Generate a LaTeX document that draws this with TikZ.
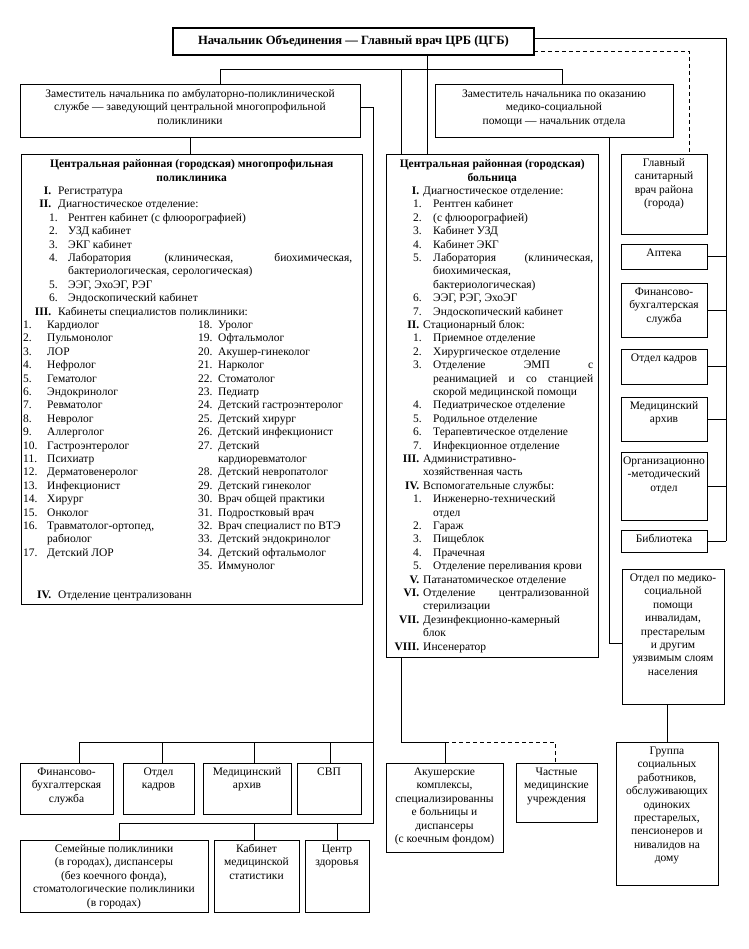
\documentclass[tikz,border=0pt]{standalone}
\usepackage{fontspec}
\setmainfont{Liberation Serif}
\newcommand\fsz{\fontsize{11.5pt}{13.4pt}\selectfont}
\newcommand\mkbox[5]{\node[box, minimum width=#4pt, minimum height=#5pt] (#1) at (#2,#3) {};}
% poly list lines
\newcommand\pR[2]{\makebox[30pt][r]{\textbf{#1}}\hspace{7pt}#2}
\newcommand\pN[2]{\makebox[28pt]{}\makebox[19pt][l]{#1}#2}
\newcommand\pC[1]{\makebox[47pt]{}#1}
\newcommand\pJ[2]{\makebox[28pt]{}\makebox[19pt][l]{#1}\makebox[284pt][s]{#2}}
\newcommand\pT[4]{\makebox[2pt]{}\makebox[24pt][l]{#1}\makebox[151pt][l]{#2}\makebox[20pt][l]{#3}#4}
% hospital list lines
\newcommand\hR[2]{\makebox[33pt][r]{\textbf{#1}}\hspace{4pt}#2}
\newcommand\hRJ[2]{\makebox[33pt][r]{\textbf{#1}}\hspace{4pt}\makebox[166pt][s]{#2}}
\newcommand\hRC[1]{\makebox[37pt]{}#1}
\newcommand\hN[2]{\makebox[27pt]{}\makebox[20pt][l]{#1}#2}
\newcommand\hJ[2]{\makebox[27pt]{}\makebox[20pt][l]{#1}\makebox[160pt][s]{#2}}
\newcommand\hC[1]{\makebox[47pt]{}#1}
\newcommand\hCJ[1]{\makebox[47pt]{}\makebox[160pt][s]{#1}}
\tikzset{
  box/.style={draw, line width=0.9pt, inner sep=0pt, outer sep=0pt, anchor=north west},
  lbl/.style={inner sep=0pt, align=center, font=\fsz},
  lst/.style={inner sep=0pt, align=left, font=\fsz, anchor=north west},
  conn/.style={line width=0.9pt},
  dconn/.style={line width=0.9pt, dash pattern=on 4pt off 3pt},
}
\begin{document}
\begin{tikzpicture}[x=1pt,y=-1pt]
\path[fill=white] (0,0) rectangle (748,949);
\useasboundingbox (0,0) rectangle (748,949);

% ---------- boxes ----------
\mkbox{top}{173}{28}{361}{27}
\mkbox{zl}{20}{84}{340}{53}
\mkbox{zr}{435}{84}{238}{53}
\mkbox{poly}{21}{154}{341}{450}
\mkbox{hosp}{386}{154}{212}{503}
\mkbox{gsv}{621}{154}{86}{80}
\mkbox{apt}{621}{244}{86}{25}
\mkbox{fin}{621}{283}{86}{54}
\mkbox{ok}{621}{349}{86}{35}
\mkbox{ma}{621}{397}{86}{44}
\mkbox{omo}{621}{452}{86}{68}
\mkbox{bib}{621}{530}{86}{22}
\mkbox{otd}{622}{569}{102}{135}
\mkbox{grp}{616}{742}{102}{143}
\mkbox{b1}{20}{763}{93}{51}
\mkbox{b2}{123}{763}{71}{51}
\mkbox{b3}{203}{763}{88}{51}
\mkbox{b4}{297}{763}{64}{51}
\mkbox{c1}{20}{840}{188}{72}
\mkbox{c2}{214}{840}{85}{72}
\mkbox{c3}{305}{840}{64}{72}
\mkbox{ak}{386}{763}{117}{89}
\mkbox{ch}{516}{763}{81}{59}
\draw[line width=1.6pt] (top.north west) rectangle (top.south east);

% ---------- texts ----------
\node[lbl, font=\bfseries\fontsize{12.6pt}{15pt}\selectfont] (top-t) at (top.center) {Начальник Объединения — Главный врач ЦРБ (ЦГБ)};
\node[lbl, anchor=north] (zl-t) at ([yshift=-4pt]zl.north) {\strut Заместитель начальника по амбулаторно-поликлинической\\службе — заведующий центральной многопрофильной\\поликлиники};
\node[lbl, anchor=north] (zr-t) at ([yshift=-4pt]zr.north) {\strut Заместитель начальника по оказанию\\медико-социальной\\помощи — начальник отдела};

\node[lbl, anchor=north] (gsv-t) at ([yshift=-2.9pt]gsv.north) {\strut Главный\\санитарный\\врач района\\(города)};
\node[lbl, anchor=north] (apt-t) at ([yshift=-2.9pt]apt.north) {\strut Аптека};
\node[lbl, anchor=north] (fin-t) at ([yshift=-2.9pt]fin.north) {\strut Финансово-\\бухгалтерская\\служба};
\node[lbl, anchor=north] (ok-t) at ([yshift=-2.9pt]ok.north) {\strut Отдел кадров};
\node[lbl, anchor=north] (ma-t) at ([yshift=-2.9pt]ma.north) {\strut Медицинский\\архив};
\node[lbl, anchor=north] (omo-t) at ([yshift=-2.9pt]omo.north) {\strut Организационно\\-методический\\отдел};
\node[lbl, anchor=north] (bib-t) at ([yshift=-2.9pt]bib.north) {\strut Библиотека};
\node[lbl, anchor=north] (otd-t) at ([yshift=-2.9pt]otd.north) {\strut Отдел по медико-\\социальной\\помощи\\инвалидам,\\престарелым\\и другим\\уязвимым слоям\\населения};
\node[lbl, anchor=north] (grp-t) at ([yshift=-2.9pt]grp.north) {\strut Группа\\социальных\\работников,\\обслуживающих\\одиноких\\престарелых,\\пенсионеров и\\нивалидов на\\дому};
\node[lbl, anchor=north] (b1-t) at ([yshift=-2.9pt]b1.north) {\strut Финансово-\\бухгалтерская\\служба};
\node[lbl, anchor=north] (b2-t) at ([yshift=-2.9pt]b2.north) {\strut Отдел\\кадров};
\node[lbl, anchor=north] (b3-t) at ([yshift=-2.9pt]b3.north) {\strut Медицинский\\архив};
\node[lbl, anchor=north] (b4-t) at ([yshift=-2.9pt]b4.north) {\strut СВП};
\node[lbl, anchor=north] (c1-t) at ([yshift=-2.9pt]c1.north) {\strut Семейные поликлиники\\(в городах), диспансеры\\(без коечного фонда),\\стоматологические поликлиники\\(в городах)};
\node[lbl, anchor=north] (c2-t) at ([yshift=-2.9pt]c2.north) {\strut Кабинет\\медицинской\\статистики};
\node[lbl, anchor=north] (c3-t) at ([yshift=-2.9pt]c3.north) {\strut Центр\\здоровья};
\node[lbl, anchor=north] (ak-t) at ([yshift=-2.9pt]ak.north) {\strut Акушерские\\комплексы,\\специализированны\\е больницы и\\диспансеры\\(с коечным фондом)};
\node[lbl, anchor=north] (ch-t) at ([yshift=-2.9pt]ch.north) {\strut Частные\\медицинские\\учреждения};

% polyclinic list
\node[lst] (poly-t) at (21,158.1) {%
\strut\makebox[341pt][c]{\textbf{Центральная районная (городская) многопрофильная}}\\
\makebox[341pt][c]{\textbf{поликлиника}}\\
\pR{I.}{Регистратура}\\
\pR{II.}{Диагностическое отделение:}\\
\pN{1.}{Рентген кабинет (с флюорографией)}\\
\pN{2.}{УЗД кабинет}\\
\pN{3.}{ЭКГ кабинет}\\
\pJ{4.}{Лаборатория (клиническая, биохимическая,}\\
\pC{бактериологическая, серологическая)}\\
\pN{5.}{ЭЭГ, ЭхоЭГ, РЭГ}\\
\pN{6.}{Эндоскопический кабинет}\\
\pR{III.}{Кабинеты специалистов поликлиники:}\\
\pT{1.}{Кардиолог}{18.}{Уролог}\\
\pT{2.}{Пульмонолог}{19.}{Офтальмолог}\\
\pT{3.}{ЛОР}{20.}{Акушер-гинеколог}\\
\pT{4.}{Нефролог}{21.}{Нарколог}\\
\pT{5.}{Гематолог}{22.}{Стоматолог}\\
\pT{6.}{Эндокринолог}{23.}{Педиатр}\\
\pT{7.}{Ревматолог}{24.}{Детский гастроэнтеролог}\\
\pT{8.}{Невролог}{25.}{Детский хирург}\\
\pT{9.}{Аллерголог}{26.}{Детский инфекционист}\\
\pT{10.}{Гастроэнтеролог}{27.}{Детский}\\
\pT{11.}{Психиатр}{}{кардиоревматолог}\\
\pT{12.}{Дерматовенеролог}{28.}{Детский невропатолог}\\
\pT{13.}{Инфекционист}{29.}{Детский гинеколог}\\
\pT{14.}{Хирург}{30.}{Врач общей практики}\\
\pT{15.}{Онколог}{31.}{Подростковый врач}\\
\pT{16.}{Травматолог-ортопед,}{32.}{Врач специалист по ВТЭ}\\
\pT{}{рабиолог}{33.}{Детский эндокринолог}\\
\pT{17.}{Детский ЛОР}{34.}{Детский офтальмолог}\\
\pT{}{}{35.}{Иммунолог}\\[15.3pt]
\pR{IV.}{Отделение централизованн}};

% hospital list
\node[lst] (hosp-t) at (386,158.1) {%
\strut\makebox[212pt][c]{\textbf{Центральная районная (городская)}}\\
\makebox[212pt][c]{\textbf{больница}}\\
\hR{I.}{Диагностическое отделение:}\\
\hN{1.}{Рентген кабинет}\\
\hN{2.}{(с флюорографией)}\\
\hN{3.}{Кабинет УЗД}\\
\hN{4.}{Кабинет ЭКГ}\\
\hJ{5.}{Лаборатория (клиническая,}\\
\hC{биохимическая,}\\
\hC{бактериологическая)}\\
\hN{6.}{ЭЭГ, РЭГ, ЭхоЭГ}\\
\hN{7.}{Эндоскопический кабинет}\\
\hR{II.}{Стационарный блок:}\\
\hN{1.}{Приемное отделение}\\
\hN{2.}{Хирургическое отделение}\\
\hJ{3.}{Отделение ЭМП с}\\
\hCJ{реанимацией и со станцией}\\
\hC{скорой медицинской помощи}\\
\hN{4.}{Педиатрическое отделение}\\
\hN{5.}{Родильное отделение}\\
\hN{6.}{Терапевтическое отделение}\\
\hN{7.}{Инфекционное отделение}\\
\hR{III.}{Административно-}\\
\hRC{хозяйственная часть}\\
\hR{IV.}{Вспомогательные службы:}\\
\hN{1.}{Инженерно-технический}\\
\hC{отдел}\\
\hN{2.}{Гараж}\\
\hN{3.}{Пищеблок}\\
\hN{4.}{Прачечная}\\
\hN{5.}{Отделение переливания крови}\\
\hR{V.}{Патанатомическое отделение}\\
\hRJ{VI.}{Отделение централизованной}\\
\hRC{стерилизации}\\
\hR{VII.}{Дезинфекционно-камерный}\\
\hRC{блок}\\
\hR{VIII.}{Инсенератор}};

% ---------- connectors ----------
\coordinate (rt) at (726,38);
\coordinate (dt) at (689,51);
\coordinate (bar) at (427,69);
\coordinate (barL) at (220,69);
\coordinate (barR) at (562,69);
\coordinate (b401) at (401,69);
\coordinate (zls) at (373,107);
\coordinate (r1) at (373,742);
\coordinate (r2) at (373,823);
\coordinate (t1) at (79,742);
\coordinate (t2) at (162,742);
\coordinate (t3) at (254,742);
\coordinate (t4) at (330,742);
\coordinate (s1) at (119,823);
\coordinate (s2) at (254,823);
\coordinate (s3) at (337,823);
\coordinate (h1) at (401,742);
\coordinate (h2) at (445,742);
\coordinate (h3) at (555,742);
\coordinate (v1) at (609,643);

\draw[conn] (top.east |- rt) -- (rt) -- (rt |- bib.east);
\foreach \n in {apt,fin,ok,ma,omo,bib} \draw[conn] (\n.east) -- (\n.east -| rt);
\draw[dconn] (top.east |- dt) -- (dt) -- (dt |- gsv.north);
\draw[conn] (top.south -| bar) -- (hosp.north -| bar);
\draw[conn] (zl.north -| barL) -- (barL) -- (barR) -- (zr.north -| barR);
\draw[conn] (b401) -- (hosp.north -| b401);
\draw[conn] (zl.south) -- (poly.north -| zl.south);
\draw[conn] (zl.east |- zls) -- (zls) -- (r2) -- (s1) -- (c1.north -| s1);
\draw[conn] (s2) -- (c2.north -| s2);
\draw[conn] (s3) -- (c3.north -| s3);
\draw[conn] (r1) -- (t1) -- (b1.north -| t1);
\draw[conn] (t2) -- (b2.north -| t2);
\draw[conn] (t3) -- (b3.north -| t3);
\draw[conn] (t4) -- (b4.north -| t4);
\draw[conn] (hosp.south -| h1) -- (h1) -- (h2) -- (ak.north -| h2);
\draw[dconn] (h2) -- (h3) -- (ch.north -| h3);
\draw[conn] (zr.south -| v1) -- (v1) -- (otd.west |- v1);
\draw[conn] (otd.south -| grp.north) -- (grp.north);
\end{tikzpicture}
\end{document}
